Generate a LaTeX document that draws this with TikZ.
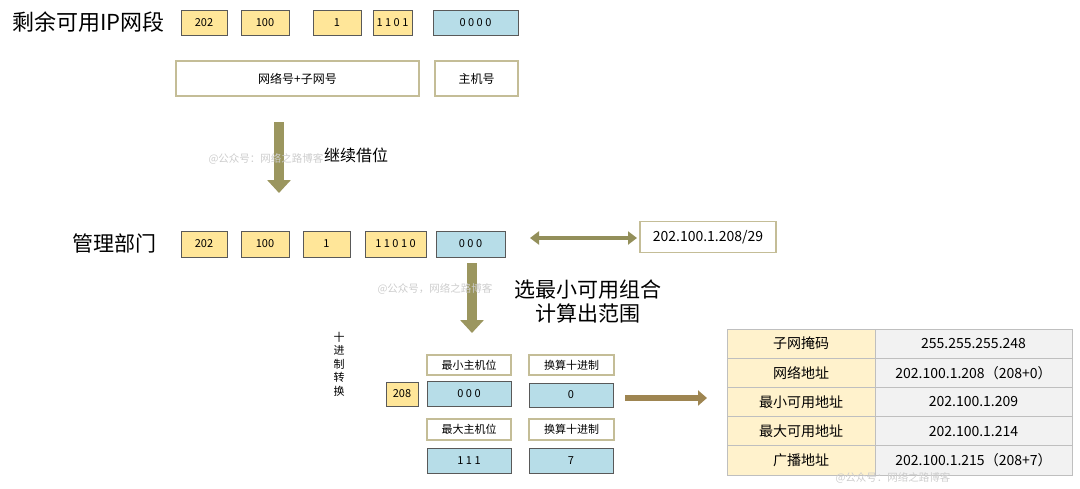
\documentclass[tikz,border=0pt]{standalone}
\usepackage{fontspec}
\setmainfont{Noto Sans CJK SC}
\usetikzlibrary{positioning,calc,arrows.meta}

\begin{document}
\begin{tikzpicture}[
		x=1pt,y=-1pt,
		>=Stealth,
		line join=miter,
		]
		% ---- colors
		\definecolor{bitYellow}{RGB}{255,230,153}
		\definecolor{bitBlue}{RGB}{183,221,232}
		\definecolor{boxEdge}{RGB}{89,89,89}
		\definecolor{tagEdge}{RGB}{196,189,151}
		\definecolor{arrOlive}{RGB}{155,150,95}
		\definecolor{arrBrown}{RGB}{158,133,81}
		\definecolor{tblEdge}{RGB}{191,191,191}
		\definecolor{tblLeft}{RGB}{255,242,204}
		\definecolor{tblRight}{RGB}{242,242,242}
		\definecolor{wmGray}{RGB}{205,205,205}
		
		% ---- styles
		\tikzset{
			fs/.style={font=\fontsize{#1}{#1}\selectfont},
			bitcell/.style={draw=boxEdge, line width=0.8pt, fill=bitYellow, minimum height=25pt, inner sep=0pt, outer sep=0pt, fs=11},
			hostcell/.style={bitcell, fill=bitBlue},
			tagcell/.style={draw=tagEdge, line width=1.2pt, fill=white, inner sep=0pt, outer sep=0pt, fs=12},
			bigtext/.style={inner sep=0pt, anchor=west, fs=#1},
			wmark/.style={text=wmGray, inner sep=0pt, fs=10.5},
			fatarrow/.style={arrOlive, line width=10pt, -{Triangle[width=23pt,length=13pt]}},
			tblkey/.style={draw=tblEdge, line width=0.8pt, fill=tblLeft, minimum width=148pt, minimum height=29.2pt, inner sep=0pt, outer sep=0pt, anchor=north west, fs=14},
			tblval/.style={tblkey, fill=tblRight, minimum width=197pt}
		}
		
		\useasboundingbox (0,0) rectangle (1080,488);
		
		% ===================== remaining IP block =====================
		\node[bigtext=22] (remTitle) at (12,22) {剩余可用IP网段};
		
		\node[bitcell, minimum width=46pt] (r1a) at (204,22.5) {202};
		\node[bitcell, minimum width=48pt] (r1b) at (265,22.5) {100};
		\node[bitcell, minimum width=48pt] (r1c) at (337,22.5) {1};
		\node[bitcell, minimum width=39pt] (r1d) at (392.5,22.5) {1 1 0 1};
		\node[hostcell, minimum width=85pt] (r1e) at (475.5,22.5) {0 0 0 0};
		
		\node[tagcell, minimum width=243pt, minimum height=35pt] (netPart) at (297.5,78.5) {网络号+子网号};
		\node[tagcell, minimum width=83pt, minimum height=35pt] (hostPart) at (476.5,78.5) {主机号};
		
		% ---- borrow more bits
		\coordinate (borrowTop) at (279,122);
		\coordinate (borrowEnd) at (279,193);
		\draw[fatarrow] (borrowTop) -- (borrowEnd);
		\node[bigtext=16] (borrowTxt) at (324,155) {继续借位};
		\node[wmark] (wm1) at (266,159) {@公众号：网络之路博客};
		
		% ===================== management dept =====================
		\node[bigtext=21] (mgmtTitle) at (72,243) {管理部门};
		
		\node[bitcell, minimum width=46pt, minimum height=26pt] (r3a) at (204,244) {202};
		\node[bitcell, minimum width=48pt, minimum height=26pt] (r3b) at (265,244) {100};
		\node[bitcell, minimum width=47pt, minimum height=26pt] (r3c) at (326.5,244) {1};
		\node[bitcell, minimum width=61pt, minimum height=26pt] (r3d) at (395.5,244) {1 1 0 1 0};
		\node[hostcell, minimum width=69pt, minimum height=26pt] (r3e) at (470.5,244) {0 0 0};
		
		\node[tagcell, minimum width=136pt, minimum height=31pt, fs=14] (netAddr) at (708,237) {202.100.1.208/29};
		\coordinate (dblLeft) at (530,238);
		\draw[arrOlive!95!black, line width=4.5pt, {Triangle[width=13pt,length=9pt]}-{Triangle[width=13pt,length=9pt]}, shorten >=3pt] (dblLeft) -- (dblLeft -| netAddr.west);
		
		% ---- pick smallest combination
		\coordinate (pickTop) at (472,263);
		\coordinate (pickEnd) at (472,333);
		\draw[fatarrow] (pickTop) -- (pickEnd);
		\node[wmark] (wm2) at (435,289) {@公众号，网络之路博客};
		\node[inner sep=0pt, align=center, font=\fontsize{21}{24}\selectfont] (pickTxt) at (588,301) {选最小可用组合\\计算出范围};
		
		% ===================== decimal conversion =====================
		\node[inner sep=0pt, align=center, font=\fontsize{11}{13.5}\selectfont] (decTag) at (339,364) {十\\进\\制\\转\\换};
		\node[bitcell, minimum width=32pt, minimum height=24pt] (oct) at (402,394) {208};
		
		\node[tagcell, minimum width=84pt, minimum height=20pt, fs=11] (minTag) at (469,365) {最小主机位};
		\node[hostcell, minimum width=84pt] (minBits) at (469,393.5) {0 0 0};
		\node[tagcell, minimum width=85pt, minimum height=20pt, fs=11] (minDecTag) at (571.5,365) {换算十进制};
		\node[hostcell, minimum width=84pt, minimum height=24pt] (minDec) at (571,395) {0};
		
		\node[tagcell, minimum width=84pt, minimum height=21pt, fs=11] (maxTag) at (469,429.5) {最大主机位};
		\node[hostcell, minimum width=84pt] (maxBits) at (469,460.5) {1 1 1};
		\node[tagcell, minimum width=85pt, minimum height=21pt, fs=11] (maxDecTag) at (571.5,429.5) {换算十进制};
		\node[hostcell, minimum width=84pt] (maxDec) at (571,460.5) {7};
		
		\coordinate (resStart) at (625,398);
		\coordinate (resEnd) at (707,398);
		\draw[arrBrown, line width=6pt, -{Triangle[width=15pt,length=9pt]}] (resStart) -- (resEnd);
		
		% ===================== result table =====================
		\foreach \k/\v [count=\i] in {子网掩码/255.255.255.248, 网络地址/202.100.1.208（208+0）, 最小可用地址/202.100.1.209, 最大可用地址/202.100.1.214, 广播地址/202.100.1.215（208+7）}{
			\node[tblkey] (key\i) at (727,{329+(\i-1)*29.2}) {\k};
			\node[tblval] (val\i) at (key\i.north east) {\v};
		}
		\node[wmark] (wm3) at (893,478) {@公众号：网络之路博客};
		
	\end{tikzpicture}
\end{document}
